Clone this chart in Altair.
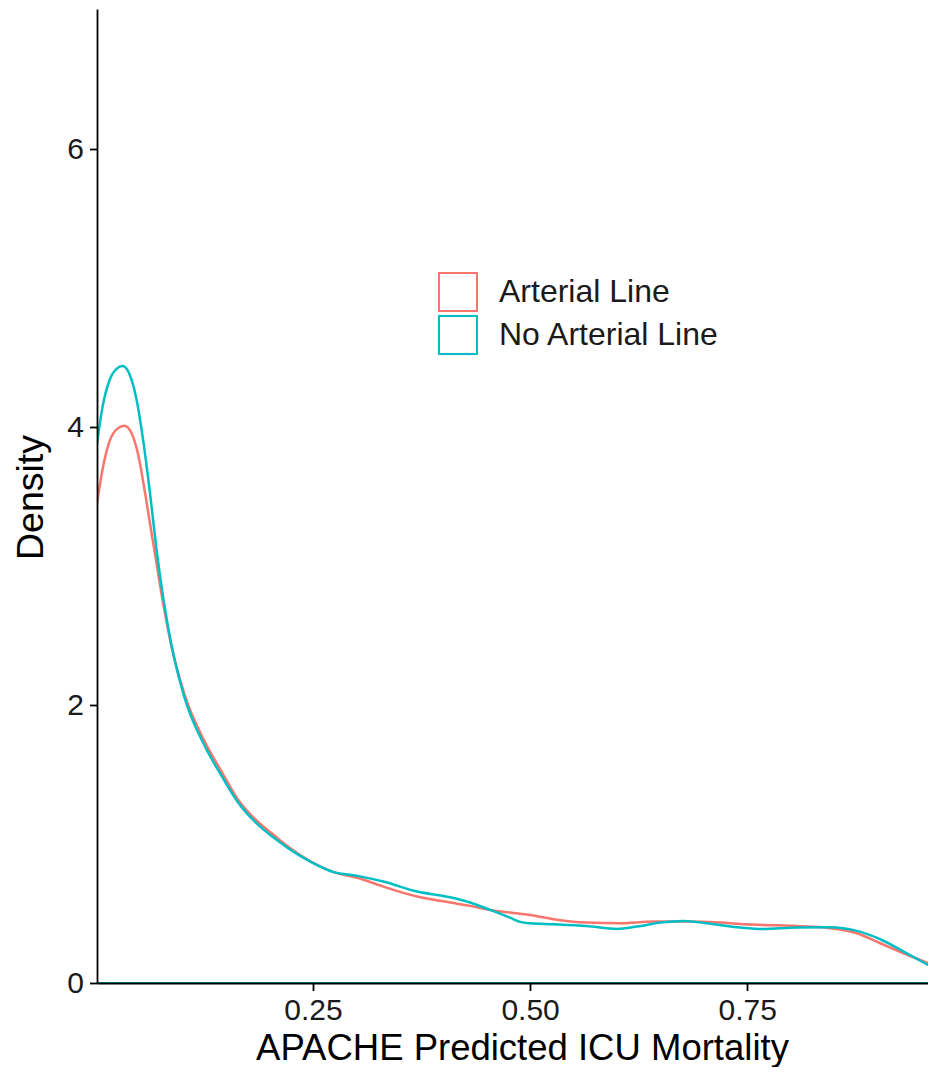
import altair as alt
import pandas as pd

# ---- data ----
groups = ["Arterial Line", "No Arterial Line"]
colors = ["#F8766D", "#00BFC4"]

x_art = [0.0015, 0.008, 0.016, 0.025, 0.033, 0.041, 0.049, 0.057, 0.064, 0.070,
         0.078, 0.087, 0.102, 0.126, 0.145, 0.165, 0.185, 0.204, 0.224, 0.247,
         0.273, 0.301, 0.331, 0.370, 0.408, 0.431, 0.454, 0.477, 0.500, 0.527,
         0.565, 0.604, 0.642, 0.680, 0.719, 0.742, 0.768, 0.807, 0.845, 0.876,
         0.903, 0.930, 0.967]
d_art = [3.45, 3.70, 3.90, 3.99, 4.01, 3.96, 3.80, 3.52, 3.25, 3.02,
         2.72, 2.43, 2.08, 1.73, 1.52, 1.31, 1.17, 1.07, 0.97, 0.876,
         0.80, 0.757, 0.694, 0.622, 0.579, 0.555, 0.526, 0.507, 0.49, 0.459,
         0.435, 0.43, 0.442, 0.442, 0.435, 0.425, 0.418, 0.41, 0.394, 0.358,
         0.286, 0.214, 0.12]

x_noart = [0.0015, 0.008, 0.016, 0.024, 0.031, 0.039, 0.047, 0.055, 0.063, 0.070,
           0.078, 0.087, 0.102, 0.126, 0.145, 0.165, 0.185, 0.204, 0.224, 0.247,
           0.273, 0.301, 0.331, 0.370, 0.408, 0.431, 0.454, 0.477, 0.4885, 0.500,
           0.527, 0.565, 0.600, 0.623, 0.650, 0.676, 0.703, 0.742, 0.768, 0.807,
           0.845, 0.876, 0.903, 0.930, 0.967]
d_noart = [3.88, 4.15, 4.34, 4.42, 4.44, 4.38, 4.20, 3.89, 3.50, 3.12,
           2.76, 2.44, 2.06, 1.70, 1.49, 1.29, 1.15, 1.05, 0.96, 0.874,
           0.80, 0.771, 0.73, 0.658, 0.617, 0.579, 0.526, 0.47, 0.44, 0.43,
           0.423, 0.41, 0.389, 0.406, 0.435, 0.447, 0.43, 0.399, 0.389, 0.399,
           0.401, 0.375, 0.315, 0.226, 0.10]

x_ticks = [0.25, 0.50, 0.75]
y_ticks = [0, 2, 4, 6]
x_domain = [0.0015, 0.958]
y_domain = [0, 7.01]

df = pd.concat([
    pd.DataFrame({"x": x_art, "density": d_art, "group": groups[0]}),
    pd.DataFrame({"x": x_noart, "density": d_noart, "group": groups[1]}),
], ignore_index=True)

base_df = pd.DataFrame({"x": [x_noart[0]], "x2": [x_noart[-1]], "density": [0]})

FONT = "Liberation Sans"
TXT = "#1a1a1a"

x_scale = alt.Scale(domain=x_domain, nice=False, zero=False)
y_scale = alt.Scale(domain=y_domain, nice=False)

x_enc = alt.X("x:Q", scale=x_scale,
              axis=alt.Axis(title="APACHE Predicted ICU Mortality", values=x_ticks,
                            format=".2f", labelPadding=5, titleX=425, titleY=76,
                            titleFontSize=36.5,
                            titleBaseline="alphabetic", titleAlign="center",
                            zindex=1))
y_enc = alt.Y("density:Q", scale=y_scale,
              axis=alt.Axis(title="Density", values=y_ticks, format="d",
                            labelPadding=6, titleX=-55, titleY=488, titleAngle=-90,
                            titleBaseline="alphabetic", titleAlign="center",
                            zindex=1))

baseline = alt.Chart(base_df).mark_rule(color=colors[1], strokeWidth=2, clip=True).encode(
    x=alt.X("x:Q", scale=x_scale),
    x2="x2:Q",
    y=alt.Y("density:Q", scale=y_scale),
)

lines = alt.Chart(df).mark_line(strokeWidth=2.5, interpolate="monotone", clip=True).encode(
    x=x_enc,
    y=y_enc,
    color=alt.Color("group:N",
                    scale=alt.Scale(domain=groups, range=colors),
                    legend=alt.Legend(title=None, orient="none", legendX=341, legendY=263,
                                      symbolType="square", symbolSize=1444,
                                      symbolStrokeWidth=2, symbolFillColor="transparent",
                                      labelFontSize=32, labelFont=FONT, labelColor=TXT,
                                      labelOffset=21, labelLimit=0, rowPadding=-9,
                                      padding=0)),
)

chart = (baseline + lines).properties(
    width=831, height=974,
    autosize=alt.AutoSizeParams(type="none"),
    padding={"left": 89, "top": 1, "right": 0, "bottom": 84},
).configure_view(stroke=None).configure_axis(
    grid=False, domainColor="black", domainWidth=1.8, tickColor="black",
    tickWidth=1.8, tickSize=7.5, labelFont=FONT, labelFontSize=30,
    labelColor=TXT, titleFont=FONT, titleFontSize=37.5, titleFontWeight="normal",
    titleColor="black",
)

chart.save("out.html", embed_options={"renderer": "svg", "actions": False})
